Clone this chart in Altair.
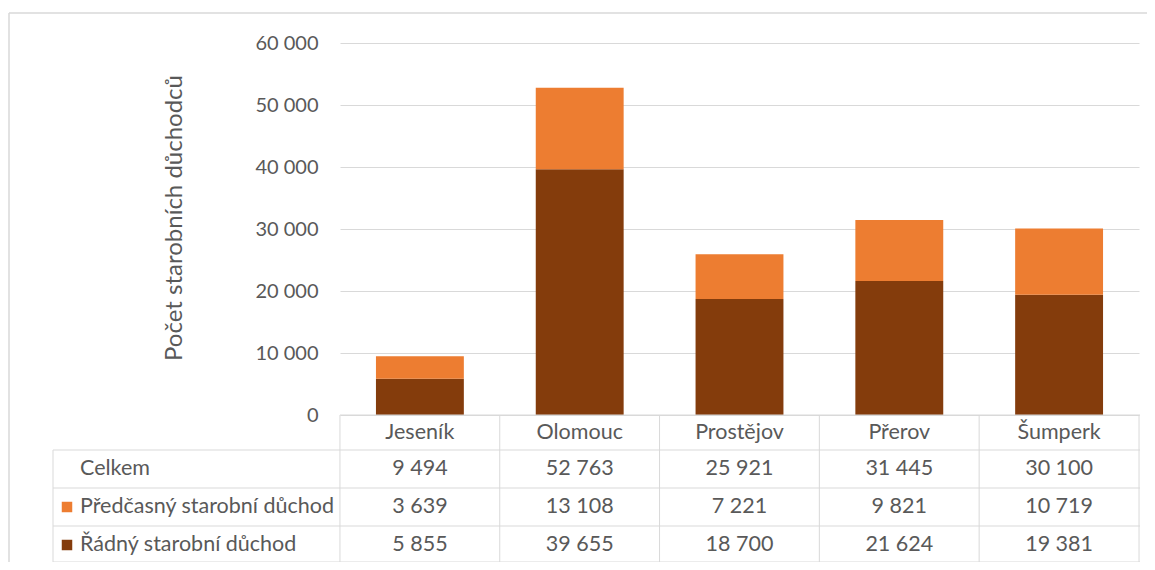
import altair as alt
import pandas as pd

# ---------------- data ----------------
categories = ["Jeseník", "Olomouc", "Prostějov", "Přerov", "Šumperk"]
predcasny = [3639, 13108, 7221, 9821, 10719]
radny = [5855, 39655, 18700, 21624, 19381]
series_names = ["Řádný starobní důchod", "Předčasný starobní důchod"]
series_colors = ["#843C0C", "#ED7D31"]
total_label = "Celkem"
y_title = "Počet starobních důchodců"
y_ticks = [0, 10000, 20000, 30000, 40000, 50000, 60000]

FONT = "Lato"
GRAY = "#595959"
LINE = "#D9D9D9"
TFS = 21.5  # table font size


def fmt(v):
    return f"{v:,}".replace(",", " ")


rows = []
for i, c in enumerate(categories):
    rows.append({"cat": c, "series": series_names[0], "value": radny[i], "ord": 0})
    rows.append({"cat": c, "series": series_names[1], "value": predcasny[i], "ord": 1})
bars_df = pd.DataFrame(rows)

table_df = pd.DataFrame({
    "cat": categories,
    "total": [fmt(a + b) for a, b in zip(predcasny, radny)],
    "pred": [fmt(v) for v in predcasny],
    "rad": [fmt(v) for v in radny],
})
last_df = pd.DataFrame({"cat": [categories[-1]]})
legend_df = pd.DataFrame({"series": series_names})

xenc = alt.X("cat:N", sort=categories, axis=None,
             scale=alt.Scale(paddingInner=0.45, paddingOuter=0.225))
color_scale = alt.Scale(domain=series_names, range=series_colors)

bars = alt.Chart(bars_df).mark_bar().encode(
    x=xenc,
    y=alt.Y("value:Q", stack="zero",
            scale=alt.Scale(domain=[0, 60000]),
            axis=alt.Axis(values=y_ticks, title=None, domain=False, ticks=False,
                          labelExpr="replace(format(datum.value, ','), ',', ' ')",
                          labelFontSize=20, labelColor=GRAY, labelFont=FONT,
                          labelPadding=22, gridColor=LINE, gridWidth=1)),
    color=alt.Color("series:N", scale=color_scale, legend=None),
    order=alt.Order("ord:Q"),
)

# y title
ytitle = alt.Chart(pd.DataFrame({"t": [y_title]})).mark_text(
    angle=270, fontSize=24, font=FONT, color=GRAY, align="center", baseline="middle"
).encode(x=alt.value(-165), y=alt.value(175), text="t:N")


def table_text(field, y):
    return alt.Chart(table_df).mark_text(fontSize=TFS, font=FONT, color=GRAY, baseline="middle").encode(
        x=xenc, y=alt.value(y), text=f"{field}:N")


header = table_text("cat", 390)
row_total = table_text("total", 426)
row_pred = table_text("pred", 464)
row_rad = table_text("rad", 502)


def row_label(t, y):
    return alt.Chart(pd.DataFrame({"t": [t]})).mark_text(
        fontSize=TFS, font=FONT, color=GRAY, align="left", baseline="middle"
    ).encode(x=alt.value(-260), y=alt.value(y), text="t:N")


lbl_total = row_label(total_label, 426)
lbl_pred = row_label(series_names[1], 464)
lbl_rad = row_label(series_names[0], 502)

sq_pred = alt.Chart(legend_df[legend_df.series == series_names[1]]).mark_square(size=110, opacity=1).encode(
    x=alt.value(-273), y=alt.value(464), color=alt.Color("series:N", scale=color_scale, legend=None))
sq_rad = alt.Chart(legend_df[legend_df.series == series_names[0]]).mark_square(size=110, opacity=1).encode(
    x=alt.value(-273), y=alt.value(502), color=alt.Color("series:N", scale=color_scale, legend=None))

# table grid lines
vlines = alt.Chart(table_df).mark_rule(color=LINE, strokeWidth=1, xOffset=-36).encode(
    x=alt.X("cat:N", sort=categories, bandPosition=0, axis=None),
    y=alt.value(372), y2=alt.value(519))
vlast = alt.Chart(last_df).mark_rule(color=LINE, strokeWidth=1, xOffset=36).encode(
    x=alt.X("cat:N", sort=categories, bandPosition=1, axis=None),
    y=alt.value(372), y2=alt.value(519))


def hline(y, x1, x2, w=1):
    return alt.Chart(pd.DataFrame({"k": [0]})).mark_rule(color=LINE, strokeWidth=w).encode(
        x=alt.value(x1), x2=alt.value(x2), y=alt.value(y))


def vline(x, y1, y2, w=1):
    return alt.Chart(pd.DataFrame({"k": [0]})).mark_rule(color=LINE, strokeWidth=w).encode(
        x=alt.value(x), y=alt.value(y1), y2=alt.value(y2))


lines = [
    hline(372, 0, 800),
    hline(407, -287, 800),
    hline(445, -287, 800),
    hline(483, -287, 800),
    hline(519, -287, 800),
    vline(-287, 407, 519),
    # outer frame
    hline(-30, -331, 807, 1.5),
    vline(-331, -30, 519, 1.5),
]

chart = alt.layer(
    bars, ytitle, *lines, vlines, vlast,
    header, row_total, row_pred, row_rad,
    lbl_total, lbl_pred, lbl_rad, sq_pred, sq_rad,
).properties(
    width=799, height=372,
    padding={"left": 332, "top": 35, "right": 8, "bottom": 147},
    autosize=alt.AutoSizeParams(type="none"),
).configure_view(stroke=None)

chart.save("out.html", embed_options={"renderer": "svg", "actions": False})
